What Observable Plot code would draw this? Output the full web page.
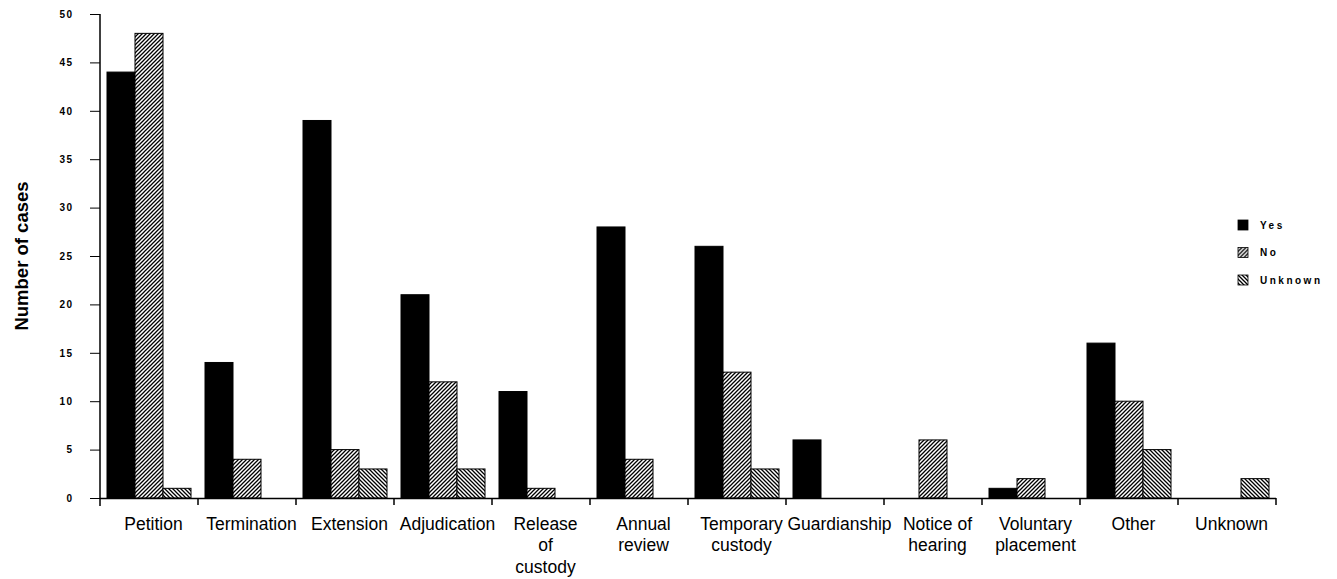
<!DOCTYPE html>
<html><head><meta charset="utf-8">
<script src="https://cdn.jsdelivr.net/npm/d3@7"></script>
<script src="https://cdn.jsdelivr.net/npm/@observablehq/plot@0.6"></script>
<style>
body{margin:0;background:#fff;}
#chart{position:relative;width:1337px;height:579px;}
#chart svg{font-family:"Liberation Sans",Arial,sans-serif;color:#000;}
g[aria-label="y-axis tick label"] text{letter-spacing:1.5px;}
</style></head><body><div id="chart"></div>
<script>
const categories = ["Petition","Termination","Extension","Adjudication","Release of custody","Annual review","Temporary custody","Guardianship","Notice of hearing","Voluntary placement","Other","Unknown"];
const categoryLabels = ["Petition","Termination","Extension","Adjudication","Release\nof\ncustody","Annual\nreview","Temporary\ncustody","Guardianship","Notice of\nhearing","Voluntary\nplacement","Other","Unknown"];
const series = ["Yes","No","Unknown"];
const yesValues = [44,14,39,21,11,28,26,6,0,1,16,0];
const noValues = [48,4,5,12,1,4,13,0,6,2,10,0];
const unknownValues = [1,0,3,3,0,0,3,0,0,0,5,2];
const yTicks = [0,5,10,15,20,25,30,35,40,45,50];
const yLabel = "Number of cases";

const seriesValues = [yesValues, noValues, unknownValues];
const seriesFills = ["#000","url(#hatchNo)","url(#hatchUnk)"];
const data = [];
categories.forEach((c,i)=>{
  seriesValues.forEach((arr,j)=>{
    if (arr[i] > 0) data.push({category:c, series:series[j], value:arr[i]});
  });
});

const plot = Plot.plot({
  width:1337, height:579,
  marginTop:14, marginBottom:81, marginLeft:96, marginRight:58,
  fx:{domain:categories, padding:0, label:null},
  x:{domain:series, paddingInner:0, paddingOuter:0.24, axis:null},
  y:{domain:[0,50], label:null},
  color:{domain:series, range:seriesFills},
  marks:[
    Plot.barY(data,{fx:"category", x:"series", y:"value", fill:"series", stroke:"#000", strokeWidth:1}),
    Plot.ruleY([0],{stroke:"#000", strokeWidth:1.5}),
    Plot.axisY({ticks:yTicks, tickSize:10, tickPadding:17, fontSize:10, fontWeight:"bold", label:null}),
    Plot.axisFx({anchor:"bottom", tickSize:0, tickPadding:16, dx:4, fontSize:17.5, lineHeight:1.23,
      tickFormat:c=>categoryLabels[categories.indexOf(c)], label:null})
  ]
});
document.getElementById("chart").appendChild(plot);

const svg = d3.select(plot);
const defs = svg.insert("defs",":first-child");
const pNo = defs.append("pattern").attr("id","hatchNo").attr("patternUnits","userSpaceOnUse").attr("width",4).attr("height",4);
pNo.append("rect").attr("width",4).attr("height",4).attr("fill","#fff");
pNo.append("path").attr("d","M-1,1 l2,-2 M0,4 l4,-4 M3,5 l2,-2").attr("stroke","#000").attr("stroke-width",1.3);
const pUnk = defs.append("pattern").attr("id","hatchUnk").attr("patternUnits","userSpaceOnUse").attr("width",4).attr("height",4);
pUnk.append("rect").attr("width",4).attr("height",4).attr("fill","#fff");
pUnk.append("path").attr("d","M-1,3 l2,2 M0,0 l4,4 M3,-1 l2,2").attr("stroke","#000").attr("stroke-width",1.3);

// axes lines and group boundary ticks from scales
const fx = plot.scale("fx"), y = plot.scale("y");
const y0 = y.apply(0), yTop = y.apply(50);
const left = fx.apply(categories[0]);
svg.append("line").attr("x1",left).attr("x2",left).attr("y1",yTop).attr("y2",y0+8).attr("stroke","#000").attr("stroke-width",1.5);
const bounds = categories.map(c=>fx.apply(c)).concat([fx.apply(categories[categories.length-1])+fx.bandwidth]);
svg.append("g").selectAll("line").data(bounds.slice(1)).join("line")
  .attr("x1",d=>d).attr("x2",d=>d).attr("y1",y0).attr("y2",y0+7).attr("stroke","#000").attr("stroke-width",1.5);

// y label
svg.append("text").attr("transform",`translate(22,${(y0+yTop)/2}) rotate(-90)`)
  .attr("text-anchor","middle").attr("dy","0.35em").attr("font-size",18.5).attr("font-weight","bold").text(yLabel);

// legend
const lg = svg.append("g").attr("transform","translate(1238,220)");
series.forEach((s,i)=>{
  const g = lg.append("g").attr("transform",`translate(0,${i*27.5})`);
  g.append("rect").attr("width",10).attr("height",10).attr("fill",seriesFills[i]).attr("stroke","#000").attr("stroke-width",0.8);
  g.append("text").attr("x",22).attr("y",5).attr("dy","0.35em").attr("text-anchor","start").attr("font-size",10).attr("font-weight","bold").attr("letter-spacing","2.5px").text(s);
});
</script></body></html>
